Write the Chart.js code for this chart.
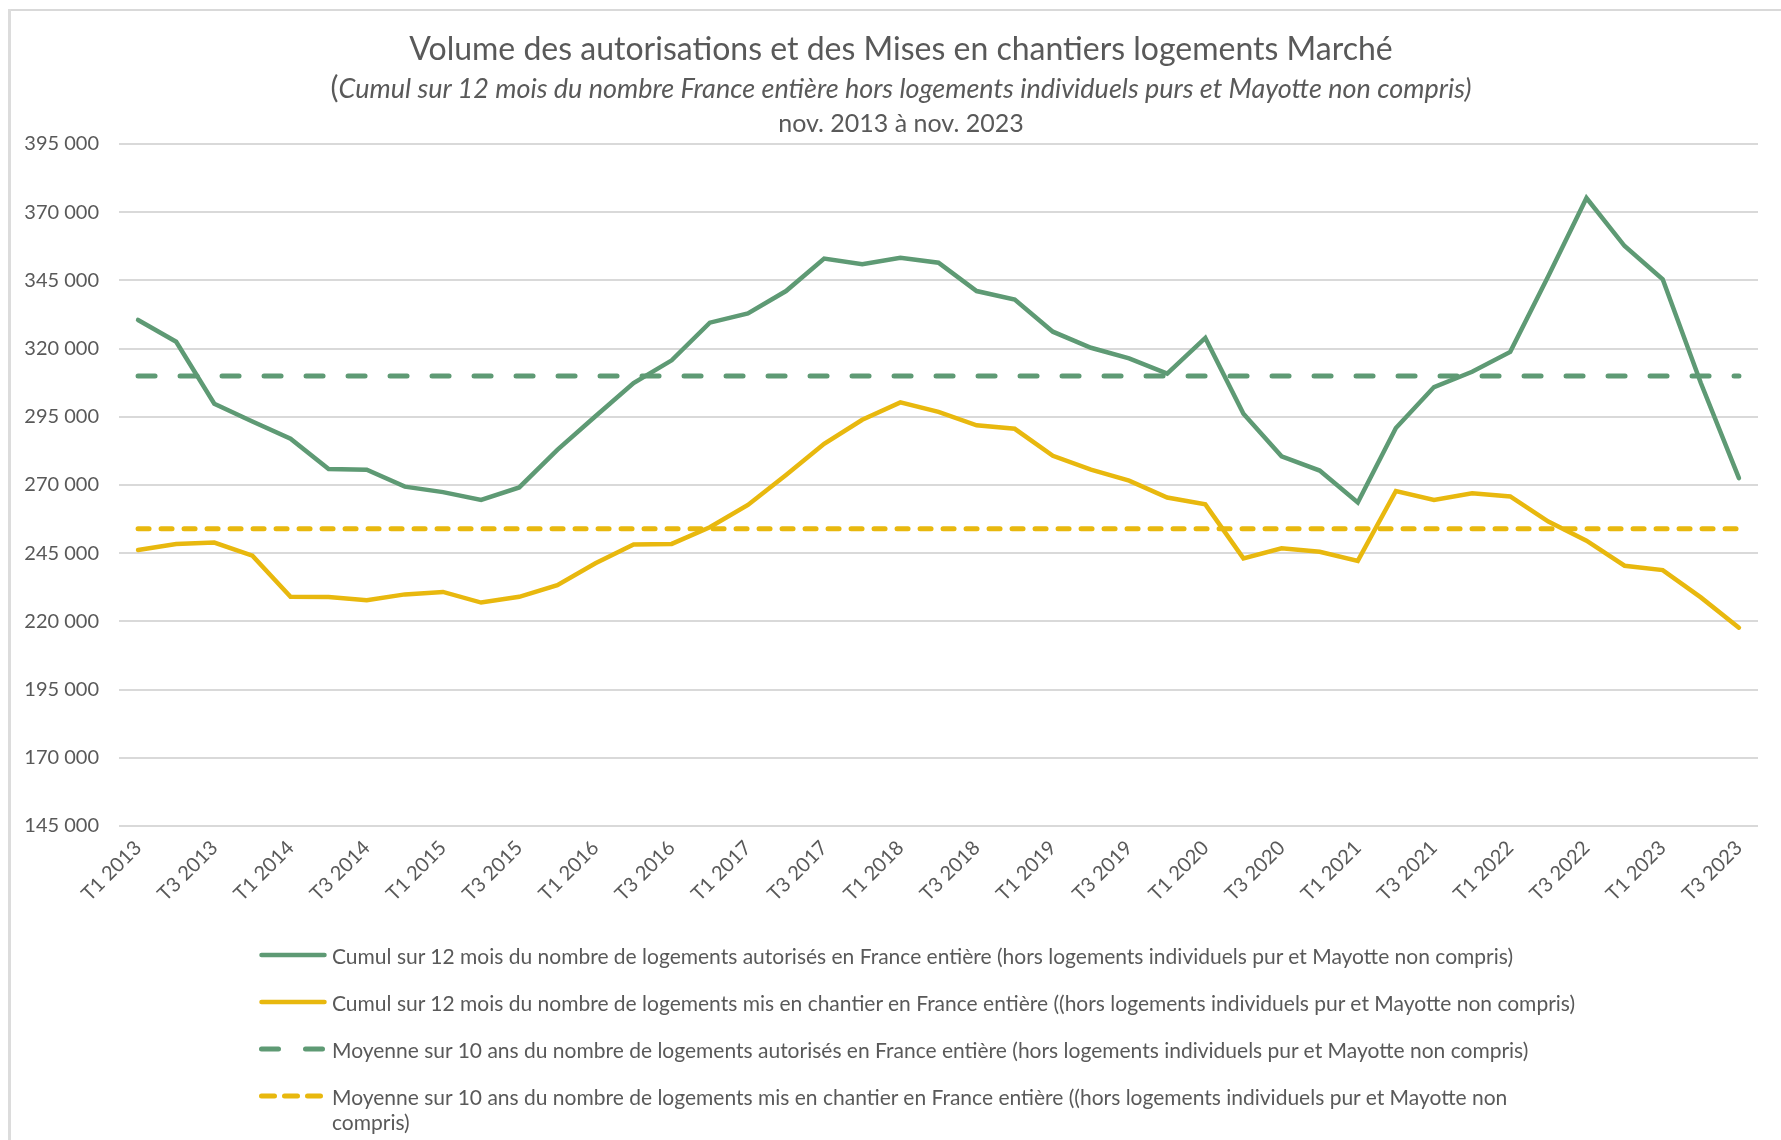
<!DOCTYPE html>
<html lang="fr">
<head>
<meta charset="utf-8">
<title>Volume des autorisations et des Mises en chantiers logements Marché</title>
<script src="https://cdn.jsdelivr.net/npm/chart.js@4.4.1/dist/chart.umd.min.js"></script>
<style>
  html, body { margin: 0; padding: 0; background: #fff; }
  body { width: 1781px; height: 1140px; position: relative; overflow: hidden; font-family: Lato, 'Open Sans', sans-serif; color: #595959; }
  .frame-top { position: absolute; left: 8px; top: 9px; width: 1773px; height: 2px; background: #d9d9d9; }
  .frame-left { position: absolute; left: 8px; top: 9px; width: 3px; height: 1131px; background: #dcdcdc; }
  #chartWrap { position: absolute; left: 0; top: 0; width: 1781px; height: 910px; }
  .titles { position: absolute; left: 0; width: 1802px; text-align: center; white-space: nowrap; }
  .t1 { top: 28px; font-size: 32px; line-height: 40px; }
  .t2 { top: 70px; font-size: 27px; line-height: 32px; }
  .t2 .par { font-size: 30px; }
  .t2 i { font-style: italic; }
  .t3 { top: 107px; font-size: 25px; line-height: 30px; }
  .legend { position: absolute; left: 259px; top: 943px; font-size: 21px; line-height: 25px; }
  .legend-item { display: flex; align-items: flex-start; margin-bottom: 22px; }
  .legend-item canvas { flex: none; margin-top: 5px; margin-right: 5px; }
  .legend-item span { white-space: nowrap; }
</style>
</head>
<body>
<div class="frame-top"></div>
<div class="frame-left"></div>
<div id="chartWrap"><canvas id="mainChart" width="1781" height="910"></canvas></div>
<div class="titles t1">Volume des autorisations et des Mises en chantiers logements Marché</div>
<div class="titles t2"><span class="par">(</span><i>Cumul sur 12 mois du nombre France entière hors logements individuels purs et Mayotte non compris)</i></div>
<div class="titles t3">nov. 2013 à nov. 2023</div>
<div class="legend" id="legend"></div>

<script>
'use strict';

// Quarters T1 2013 .. T3 2023
const quarters = [
  'T1 2013', 'T2 2013', 'T3 2013', 'T4 2013',
  'T1 2014', 'T2 2014', 'T3 2014', 'T4 2014',
  'T1 2015', 'T2 2015', 'T3 2015', 'T4 2015',
  'T1 2016', 'T2 2016', 'T3 2016', 'T4 2016',
  'T1 2017', 'T2 2017', 'T3 2017', 'T4 2017',
  'T1 2018', 'T2 2018', 'T3 2018', 'T4 2018',
  'T1 2019', 'T2 2019', 'T3 2019', 'T4 2019',
  'T1 2020', 'T2 2020', 'T3 2020', 'T4 2020',
  'T1 2021', 'T2 2021', 'T3 2021', 'T4 2021',
  'T1 2022', 'T2 2022', 'T3 2022', 'T4 2022',
  'T1 2023', 'T2 2023', 'T3 2023'
];

// Cumul 12 mois - logements autorisés
const autorises = [
  330500, 322500, 299800, 293300, 287000, 275900, 275600, 269400, 267400, 264500,
  269100, 282900, 295200, 307400, 315700, 329500, 332900, 341100, 353000, 350900,
  353300, 351500, 341100, 338000, 326200, 320300, 316400, 310800, 323900, 296100,
  280500, 275300, 263600, 290900, 305900, 311500, 318800, 346600, 375200, 357600,
  345400, 307400, 272500
];

// Cumul 12 mois - logements mis en chantier
const misEnChantier = [
  246200, 248400, 248900, 244100, 229000, 228900, 227800, 229900, 230800, 226900,
  229000, 233300, 241300, 248200, 248400, 254500, 262700, 273700, 285100, 293900,
  300300, 296800, 291900, 290600, 280700, 275600, 271600, 265400, 262900, 243100,
  246800, 245500, 242200, 267800, 264500, 267000, 265800, 256600, 249600, 240400,
  238800, 228800, 217700
];

// Moyennes sur 10 ans
const moyenneAutorises = 310000;
const moyenneChantier = 254000;

const yTicks = { min: 145000, max: 395000, step: 25000 };

const seriesLabels = [
  'Cumul sur 12 mois du nombre de logements autorisés en France entière (hors logements individuels pur et Mayotte non compris)',
  'Cumul sur 12 mois du nombre de logements mis en chantier en France entière ((hors logements individuels pur et Mayotte non compris)',
  'Moyenne sur 10 ans du nombre de logements autorisés en France entière (hors logements individuels pur et Mayotte non compris)',
  ['Moyenne sur 10 ans du nombre de logements mis en chantier en France entière ((hors logements individuels pur et Mayotte non', 'compris)']
];

const GREEN = '#5E9A74';
const YELLOW = '#E8B80E';
const TEXT = '#595959';
const FONT = "Lato, 'Open Sans', sans-serif";

const lineStyles = [
  { color: GREEN, dash: [], width: 4.5 },
  { color: YELLOW, dash: [], width: 4.5 },
  { color: GREEN, dash: [17, 25], width: 5 },
  { color: YELLOW, dash: [11, 12], width: 5 }
];

// legend samples use their own dash phase
const legendDash = [[], [], [17, 27], [13, 10]];

const first = quarters[0];
const last = quarters[quarters.length - 1];

function makeDataset(i, data) {
  const s = lineStyles[i];
  return {
    label: Array.isArray(seriesLabels[i]) ? seriesLabels[i].join(' ') : seriesLabels[i],
    data: data,
    borderColor: s.color,
    backgroundColor: s.color,
    borderWidth: s.width,
    borderDash: s.dash,
    borderCapStyle: 'round',
    borderJoinStyle: 'miter',
    pointRadius: 0,
    tension: 0,
    fill: false
  };
}

const ctx = document.getElementById('mainChart').getContext('2d');
new Chart(ctx, {
  type: 'line',
  data: {
    labels: quarters,
    datasets: [
      makeDataset(2, [{ x: first, y: moyenneAutorises }, { x: last, y: moyenneAutorises }]),
      makeDataset(3, [{ x: first, y: moyenneChantier }, { x: last, y: moyenneChantier }]),
      makeDataset(0, autorises),
      makeDataset(1, misEnChantier)
    ]
  },
  options: {
    responsive: false,
    animation: false,
    layout: { padding: { top: 144, right: 23, bottom: 0, left: 0 } },
    plugins: {
      legend: { display: false },
      title: { display: false },
      tooltip: { enabled: false }
    },
    scales: {
      x: {
        type: 'category',
        offset: true,
        grid: { display: false, drawTicks: false },
        border: { display: false },
        afterFit: scale => { scale.height = 84; },
        ticks: {
          autoSkip: false,
          maxRotation: 45,
          minRotation: 45,
          padding: 10,
          color: TEXT,
          font: { family: FONT, size: 20 },
          callback: function (val, idx) { return idx % 2 === 0 ? this.getLabelForValue(val) : ''; }
        }
      },
      y: {
        min: yTicks.min,
        max: yTicks.max,
        grid: { color: '#d9d9d9', lineWidth: 2, drawTicks: false },
        border: { display: false },
        afterFit: scale => { scale.width = 119; },
        ticks: {
          stepSize: yTicks.step,
          padding: 20,
          color: TEXT,
          font: { family: FONT, size: 20 },
          callback: v => v.toLocaleString('fr-FR').replace(/\s/g, ' ')
        }
      }
    }
  }
});

// Legend (HTML so the last item can wrap like the original)
const legendEl = document.getElementById('legend');
[0, 1, 2, 3].forEach(i => {
  const s = lineStyles[i];
  const item = document.createElement('div');
  item.className = 'legend-item';
  const c = document.createElement('canvas');
  c.width = 68; c.height = 14;
  const g = c.getContext('2d');
  g.strokeStyle = s.color;
  g.lineWidth = s.width;
  g.lineCap = 'round';
  g.setLineDash(legendDash[i]);
  g.beginPath(); g.moveTo(2.5, 7); g.lineTo(65.5, 7); g.stroke();
  item.appendChild(c);
  const txt = document.createElement('span');
  const lbl = seriesLabels[i];
  if (Array.isArray(lbl)) {
    lbl.forEach((line, k) => {
      if (k) txt.appendChild(document.createElement('br'));
      txt.appendChild(document.createTextNode(line));
    });
  } else {
    txt.textContent = lbl;
  }
  item.appendChild(txt);
  legendEl.appendChild(item);
});
</script>
</body>
</html>
